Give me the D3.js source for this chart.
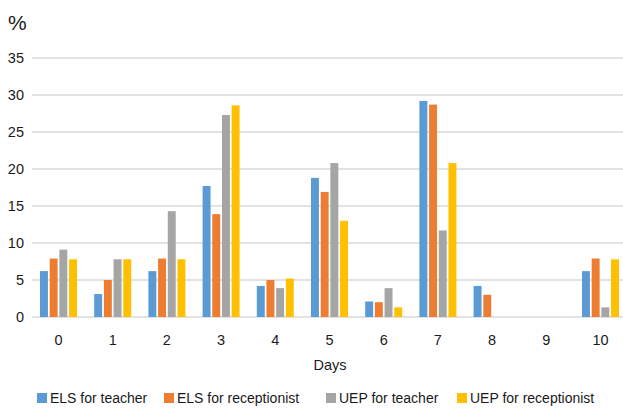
<!DOCTYPE html>
<html>
<head>
<meta charset="utf-8">
<script src="https://cdn.jsdelivr.net/npm/d3@7"></script>
<style>
  body { margin: 0; background: #fff; }
  svg { display: block; font-family: "Liberation Sans", Arial, sans-serif; }
</style>
</head>
<body>
<svg id="chart" width="623" height="408"></svg>
<script>
var days = ['0', '1', '2', '3', '4', '5', '6', '7', '8', '9', '10'];
var seriesNames = ['ELS for teacher', 'ELS for receptionist', 'UEP for teacher', 'UEP for receptionist'];
var colors = ['#5B9BD5', '#ED7D31', '#A5A5A5', '#FFC000'];
var elsTeacher      = [6.2, 3.1, 6.2, 17.7, 4.2, 18.8, 2.1, 29.2, 4.2, 0, 6.2];
var elsReceptionist = [7.9, 5.0, 7.9, 13.9, 5.0, 16.9, 2.0, 28.7, 3.0, 0, 7.9];
var uepTeacher      = [9.1, 7.8, 14.3, 27.3, 3.9, 20.8, 3.9, 11.7, 0, 0, 1.3];
var uepReceptionist = [7.8, 7.8, 7.8, 28.6, 5.2, 13.0, 1.3, 20.8, 0, 0, 7.8];
var yTicks = [0, 5, 10, 15, 20, 25, 30, 35];

var series = [elsTeacher, elsReceptionist, uepTeacher, uepReceptionist];

const svg = d3.select('#chart');
const x = d3.scaleBand().domain(days).range([31.4, 627.6]);
const xs = d3.scaleBand().domain(d3.range(series.length)).range([-18.5, 18.5]).paddingInner(0.18);
const y = d3.scaleLinear().domain([0, 35]).range([317, 58]);

// gridlines
svg.append('g')
  .selectAll('line')
  .data(yTicks)
  .enter()
  .append('line')
  .attr('x1', 32).attr('x2', 623)
  .attr('y1', d => y(d)).attr('y2', d => y(d))
  .attr('stroke', '#D9D9D9')
  .attr('stroke-width', 1.3);

// y labels
svg.append('g')
  .selectAll('text')
  .data(yTicks)
  .enter()
  .append('text')
  .attr('x', 24)
  .attr('y', d => y(d) + 5)
  .attr('text-anchor', 'end')
  .attr('font-size', 14.5)
  .attr('fill', '#1a1a1a')
  .text(d => d);

svg.append('text')
  .attr('x', 8).attr('y', 30)
  .attr('font-size', 21)
  .attr('fill', '#1a1a1a')
  .text('%');

// bars
series.forEach(function(vals, si) {
  svg.append('g')
    .selectAll('rect')
    .data(vals)
    .enter()
    .append('rect')
    .attr('x', (d, i) => x(days[i]) + x.bandwidth() / 2 + xs(si))
    .attr('width', xs.bandwidth())
    .attr('y', d => y(d))
    .attr('height', d => y(0) - y(d))
    .attr('fill', colors[si]);
});

// x labels
svg.append('g')
  .selectAll('text')
  .data(days)
  .enter()
  .append('text')
  .attr('x', d => x(d) + x.bandwidth() / 2)
  .attr('y', 345)
  .attr('text-anchor', 'middle')
  .attr('font-size', 14.5)
  .attr('fill', '#1a1a1a')
  .text(d => d);

svg.append('text')
  .attr('x', 330).attr('y', 370)
  .attr('text-anchor', 'middle')
  .attr('font-size', 14.5)
  .attr('fill', '#1a1a1a')
  .text('Days');

// legend
var legendX = [37, 164, 326, 457];
var lg = svg.append('g')
  .selectAll('g')
  .data(seriesNames)
  .enter()
  .append('g')
  .attr('transform', (d, i) => 'translate(' + legendX[i] + ',393)');
lg.append('rect')
  .attr('width', 10).attr('height', 10)
  .attr('fill', (d, i) => colors[i]);
lg.append('text')
  .attr('x', 13).attr('y', 10)
  .attr('font-size', 14)
  .attr('fill', '#1a1a1a')
  .text(d => d);
</script>
</body>
</html>
